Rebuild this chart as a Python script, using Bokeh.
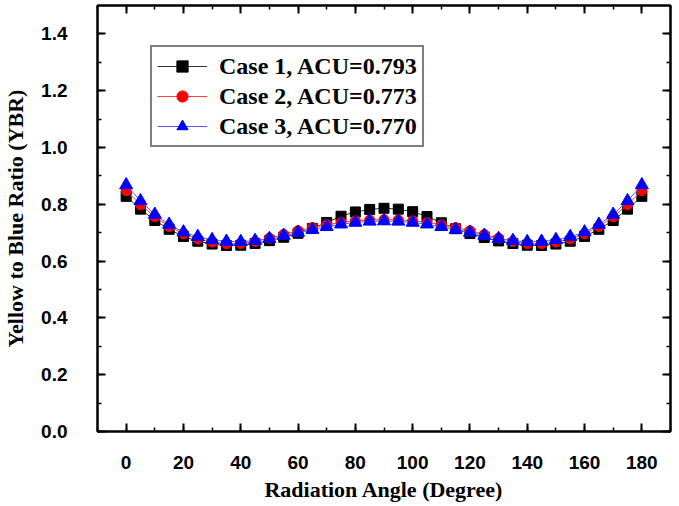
from bokeh.plotting import figure
from bokeh.models import (LinearAxis, SingleIntervalTicker, PrintfTickFormatter,
                          Range1d, Legend, LegendItem)
from bokeh.embed import file_html
from bokeh.resources import INLINE

angles = list(range(0, 185, 5))

case1 = [0.828, 0.783, 0.743, 0.712, 0.687, 0.670, 0.660, 0.655, 0.656, 0.662,
         0.672, 0.684, 0.698, 0.715, 0.736, 0.758, 0.773, 0.782, 0.786, 0.783,
         0.774, 0.757, 0.735, 0.714, 0.697, 0.683, 0.671, 0.662, 0.656, 0.655,
         0.660, 0.670, 0.687, 0.712, 0.743, 0.783, 0.828]
case2 = [0.848, 0.798, 0.756, 0.722, 0.696, 0.678, 0.667, 0.661, 0.662, 0.669,
         0.681, 0.694, 0.707, 0.718, 0.728, 0.736, 0.742, 0.745, 0.746, 0.745,
         0.742, 0.736, 0.728, 0.718, 0.707, 0.694, 0.681, 0.669, 0.662, 0.661,
         0.667, 0.678, 0.696, 0.722, 0.756, 0.798, 0.848]
case3 = [0.868, 0.812, 0.764, 0.729, 0.702, 0.686, 0.675, 0.669, 0.668, 0.672,
         0.679, 0.690, 0.701, 0.711, 0.721, 0.730, 0.736, 0.740, 0.741, 0.740,
         0.736, 0.730, 0.721, 0.711, 0.701, 0.690, 0.679, 0.672, 0.668, 0.669,
         0.675, 0.686, 0.702, 0.729, 0.764, 0.812, 0.868]

labels = ["Case 1, ACU=0.793", "Case 2, ACU=0.773", "Case 3, ACU=0.770"]

p = figure(output_backend="svg", toolbar_location=None,
           frame_width=573, frame_height=426,
           x_range=Range1d(-10, 190), y_range=Range1d(0, 1.5),
           min_border_left=88, min_border_right=2, min_border_top=5,
           min_border_bottom=60, x_axis_type=None, y_axis_type=None)
p.xgrid.visible = False
p.ygrid.visible = False
p.outline_line_color = "black"
p.outline_line_width = 2
p.background_fill_color = "white"
p.border_fill_color = "white"

TICK_FONT = "Liberation Sans"
TITLE_FONT = "Liberation Serif"


def style_axis(ax, show_labels=True):
    ax.major_tick_in = 8
    ax.major_tick_out = 0
    ax.minor_tick_in = 4
    ax.minor_tick_out = 0
    ax.axis_line_color = "black"
    ax.axis_line_width = 2
    ax.major_tick_line_width = 2
    ax.minor_tick_line_width = 1.5
    ax.major_label_text_font = TICK_FONT
    ax.major_label_text_font_style = "bold"
    ax.major_label_text_font_size = "19px"
    ax.major_label_text_color = "black"
    ax.axis_label_text_font = TITLE_FONT
    ax.axis_label_text_font_style = "bold"
    ax.axis_label_text_font_size = "22px"
    ax.axis_label_text_color = "black"
    if not show_labels:
        ax.major_label_text_font_size = "0px"
        ax.major_label_text_alpha = 0


xb = LinearAxis(ticker=SingleIntervalTicker(interval=20, num_minor_ticks=2),
                axis_label="Radiation Angle (Degree)")
style_axis(xb)
xb.major_label_standoff = 24
xb.axis_label_standoff = 5
p.add_layout(xb, "below")

yl = LinearAxis(ticker=SingleIntervalTicker(interval=0.2, num_minor_ticks=2),
                formatter=PrintfTickFormatter(format="%.1f"),
                axis_label="Yellow to Blue Ratio (YBR)")
style_axis(yl)
yl.major_label_standoff = 30
yl.axis_label_standoff = 10
p.add_layout(yl, "left")

xt = LinearAxis(ticker=SingleIntervalTicker(interval=20, num_minor_ticks=2))
style_axis(xt, show_labels=False)
xt.major_label_standoff = 0
p.add_layout(xt, "above")

yr = LinearAxis(ticker=SingleIntervalTicker(interval=0.2, num_minor_ticks=2))
style_axis(yr, show_labels=False)
yr.major_label_standoff = 0
p.add_layout(yr, "right")

l1 = p.line(angles, case1, line_color="#333333", line_width=1)
m1 = p.scatter(angles, case1, marker="square", size=10, fill_color="black", line_color="black")
l2 = p.line(angles, case2, line_color="#ff4040", line_width=1)
m2 = p.scatter(angles, case2, marker="circle", size=10, fill_color="red", line_color="red")
l3 = p.line(angles, case3, line_color="#5a5aff", line_width=1)
m3 = p.scatter(angles, case3, marker="triangle", size=13, fill_color="blue", line_color="blue")

legend = Legend(items=[LegendItem(label=labels[0], renderers=[l1, m1]),
                       LegendItem(label=labels[1], renderers=[l2, m2]),
                       LegendItem(label=labels[2], renderers=[l3, m3])],
                location=(53, 284))
legend.label_text_font = TITLE_FONT
legend.label_text_font_style = "bold"
legend.label_text_font_size = "24px"
legend.label_text_color = "black"
legend.glyph_width = 50
legend.glyph_height = 28
legend.label_height = 28
legend.spacing = 2
legend.padding = 5
legend.margin = 0
legend.label_standoff = 12
legend.border_line_color = "black"
legend.border_line_width = 2
legend.background_fill_alpha = 1
p.add_layout(legend, "center")

open("out.html", "w").write(file_html(p, INLINE))
